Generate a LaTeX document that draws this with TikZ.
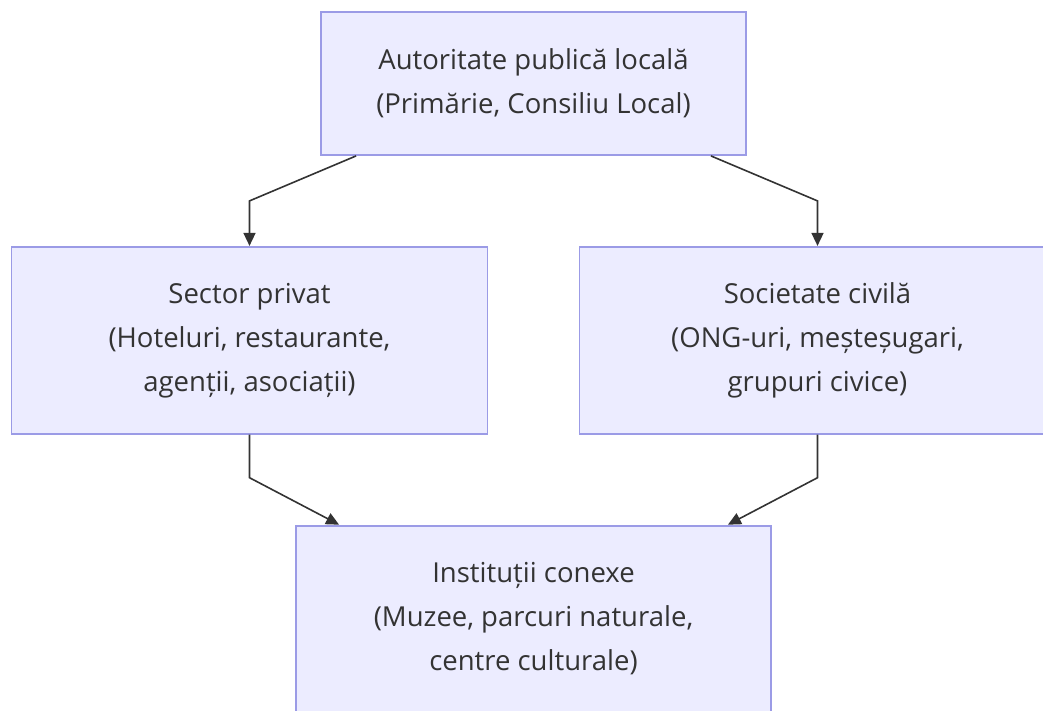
\documentclass[tikz,border=0pt]{standalone}
\usepackage{fontspec}
\setmainfont{Open Sans}
\usepackage{tikz}
\usetikzlibrary{positioning,arrows.meta}
\definecolor{boxfill}{HTML}{ECECFF}
\definecolor{boxline}{RGB}{155,155,230}
\definecolor{ink}{HTML}{333333}

\begin{document}
\begin{tikzpicture}[x=1pt, y=1pt, node distance={90pt},
    main/.style = {draw=boxline, fill=boxfill, line width=1.8pt, minimum width=476pt, minimum height=187pt, align=center, text=ink, font=\fontsize{27.5}{44}\selectfont},
    conn/.style = {draw=ink, line width=1.6pt, -{Triangle[length=13pt, width=12pt]}}]
    \useasboundingbox (0,0) rectangle (1043,-710);
    \node[main, minimum width=425pt, minimum height=143pt] (pub) at (533.5,-83.5) {Autoritate publică locală\\(Primărie, Consiliu Local)};
    \node[main] (priv) [below=of pub, xshift=-284pt] {Sector privat\\(Hoteluri, restaurante,\\agenții, asociații)};
    \node[main] (civ) [below=of pub, xshift=284pt] {Societate civilă\\(ONG-uri, meșteșugari,\\grupuri civice)};
    \node[main, minimum width=475pt, minimum height=186pt] (inst) [below=of priv, xshift=284pt] {Instituții conexe\\(Muzee, parcuri naturale,\\centre culturale)};

    \draw[conn] ([xshift=36pt]pub.south west) -- ([yshift=45pt]priv.north) -- (priv.north);
    \draw[conn] ([xshift=-36pt]pub.south east) -- ([yshift=45pt]civ.north) -- (civ.north);
    \draw[conn] (priv.south) -- ([yshift=-43pt]priv.south) -- ([xshift=44pt]inst.north west);
    \draw[conn] (civ.south) -- ([yshift=-43pt]civ.south) -- ([xshift=-44pt]inst.north east);
\end{tikzpicture}
\end{document}
